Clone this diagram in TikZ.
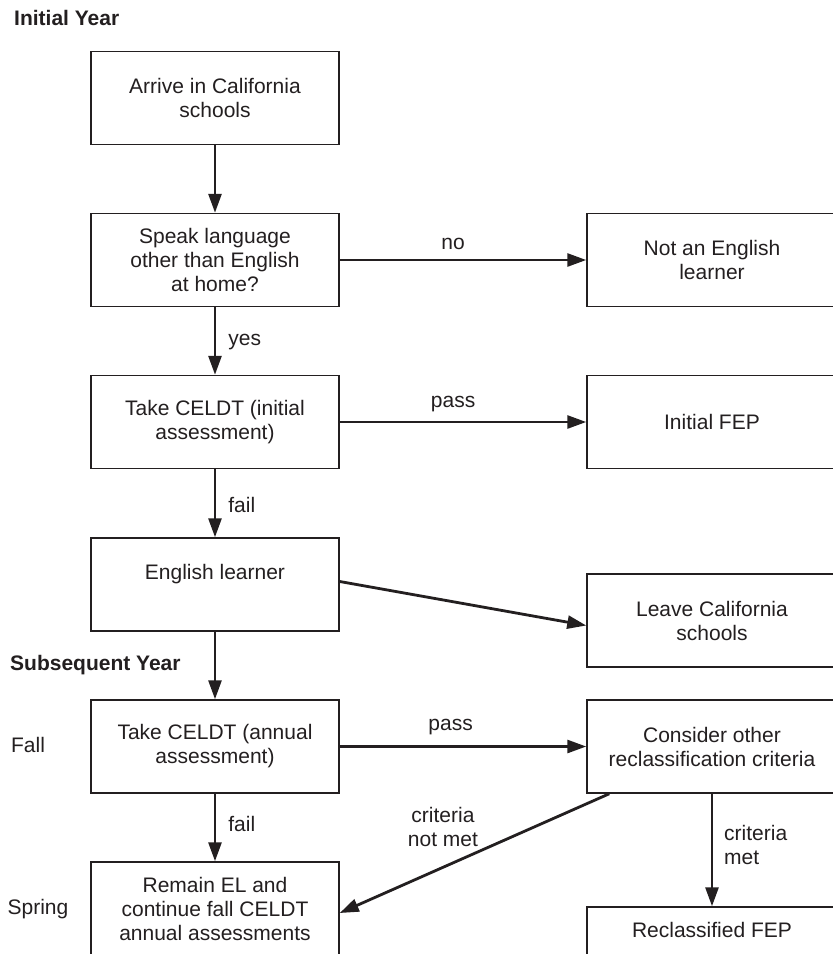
\documentclass[tikz,border=0pt]{standalone}
\usepackage{fontspec}
\setmainfont{Liberation Sans}
\usetikzlibrary{arrows.meta}
\definecolor{ink}{HTML}{231F20}
\tikzset{
  box/.style={draw=ink, line width=1.5pt, minimum width=248pt, minimum height=93pt,
    align=center, inner sep=2pt, font=\fontsize{21}{24}\selectfont, text=ink},
  txt/.style={align=center, inner sep=0pt, font=\fontsize{21}{24}\selectfont, text=ink},
  head/.style={inner sep=0pt, font=\fontsize{21}{24}\selectfont\bfseries, text=ink},
  arr/.style={draw=ink, line width=2.8pt, -{Triangle[length=19pt,width=13pt]}},
}
\begin{document}
\begin{tikzpicture}[x=1pt,y=-1pt]
\clip (0,0) rectangle (833,954);
\fill[white] (0,0) rectangle (833,954);

\node[head, anchor=west] (hinit) at (14,18) {Initial Year};
\node[head, anchor=west] (hsub) at (10,665) {Subsequent Year};
\node[txt] (fall) at (28,745) {Fall};
\node[txt] (spring) at (38,909) {Spring};

\node[box] (arrive) at (215,98) {Arrive in California\\schools};
\node[box] (speak) at (215,260) {Speak language\\other than English\\at home?};
\node[box] (take1) at (215,422) {Take CELDT (initial\\assessment)};
\node[box] (el) at (215,584.5) {English learner\\[2pt]};
\node[box] (take2) at (215,746.5) {Take CELDT (annual\\assessment)};
\node[box] (remain) at (215,908.5) {Remain EL and\\continue fall CELDT\\annual assessments};

\node[box, minimum width=250pt] (notel) at (712,260) {Not an English\\learner};
\node[box, minimum width=250pt] (ifep) at (712,422) {Initial FEP};
\node[box, minimum width=250pt] (leave) at (712,620.5) {Leave California\\schools};
\node[box, minimum width=250pt] (consider) at (712,746.5) {Consider other\\reclassification criteria};
\node[box, minimum width=250pt] (reclass) at (712,953.5) {};
\node[txt] (reclasst) at (712,930) {Reclassified FEP};

\draw[arr] (arrive) -- (speak);
\draw[arr] (speak) -- node[txt, pos=0.46, above=9pt] (lno) {no} (notel);
\draw[arr] (speak) -- node[txt, right=12pt, pos=0.52] (lyes) {yes} (take1);
\draw[arr] (take1) -- node[txt, pos=0.46, above=9pt] (lpass1) {pass} (ifep);
\draw[arr] (take1) -- node[txt, right=12pt, pos=0.52] (lfail1) {fail} (el);
\draw[arr] ([yshift=3pt]el.east) -- ([yshift=-5pt]leave.west);
\draw[arr] (el) -- (take2);
\draw[arr] (take2) -- node[txt, pos=0.45, above=10pt] (lpass2) {pass} (consider);
\draw[arr] (take2) -- node[txt, right=12pt, pos=0.45] (lfail2) {fail} (remain);
\draw[arr] ([xshift=23pt]consider.south west) -- ([yshift=-4.5pt]remain.east);
\draw[arr] (consider) -- (reclass);

\node[txt] (lnotmet) at (443,827) {criteria\\not met};
\node[txt, anchor=west, align=left] (lmet) at (724,845) {criteria\\met};
\end{tikzpicture}
\end{document}
